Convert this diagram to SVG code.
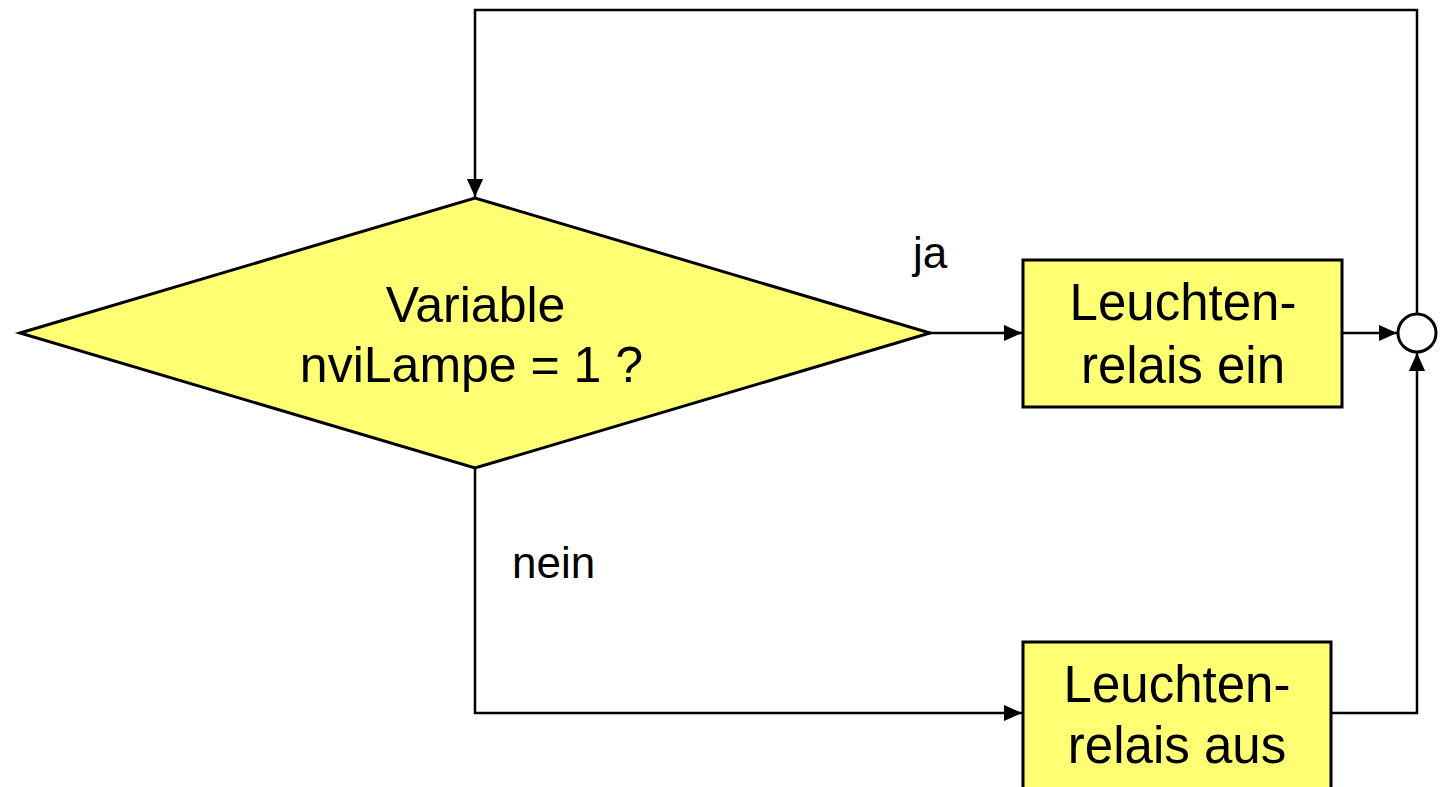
<svg xmlns="http://www.w3.org/2000/svg" width="1445" height="787" viewBox="0 0 1445 787">
<style>
.shape{fill:#FFFF73;stroke:#000;stroke-width:3}
.line{fill:none;stroke:#000;stroke-width:2.5}
.t{font-family:"Liberation Sans",Arial,sans-serif;fill:#000}
.big{font-size:50px;text-anchor:middle}
.box{font-size:51px}
.lbl{font-size:44px}
</style>
<defs>
<marker id="ah" viewBox="0 0 10 10" refX="10" refY="5" markerWidth="18" markerHeight="18" markerUnits="userSpaceOnUse" orient="auto">
<path d="M0,0.5 L10,5 L0,9.5 z" fill="#000"/>
</marker>
</defs>
<rect width="1445" height="787" fill="#fff"/>
<g id="connectors">
<polyline class="line" points="1417,314 1417,10 475,10 475,197" marker-end="url(#ah)"/>
<line class="line" x1="930" y1="333" x2="1022" y2="333" marker-end="url(#ah)"/>
<line class="line" x1="1342" y1="333" x2="1397" y2="333" marker-end="url(#ah)"/>
<polyline class="line" points="475,468 475,713 1022,713" marker-end="url(#ah)"/>
<polyline class="line" points="1331,713 1417,713 1417,353" marker-end="url(#ah)"/>
<text class="t lbl" x="913" y="268">ja</text>
<text class="t lbl" x="512" y="578">nein</text>
</g>
<g id="decision">
<polygon class="shape" points="20,333 475,198 930,333 475,468"/>
<text class="t big" x="475.5" y="322">Variable</text>
<text class="t big" x="471.5" y="382">nviLampe = 1 ?</text>
</g>
<g id="relais-ein">
<rect class="shape" x="1023" y="260" width="319" height="147"/>
<text class="t big box" x="1183" y="320">Leuchten-</text>
<text class="t big box" x="1183" y="383">relais ein</text>
</g>
<g id="relais-aus">
<rect class="shape" x="1023" y="642" width="308" height="160"/>
<text class="t big box" x="1177" y="702">Leuchten-</text>
<text class="t big box" x="1177" y="763">relais aus</text>
</g>
<g id="junction">
<circle cx="1417" cy="333" r="19" fill="#fff" stroke="#000" stroke-width="3"/>
</g>
</svg>
